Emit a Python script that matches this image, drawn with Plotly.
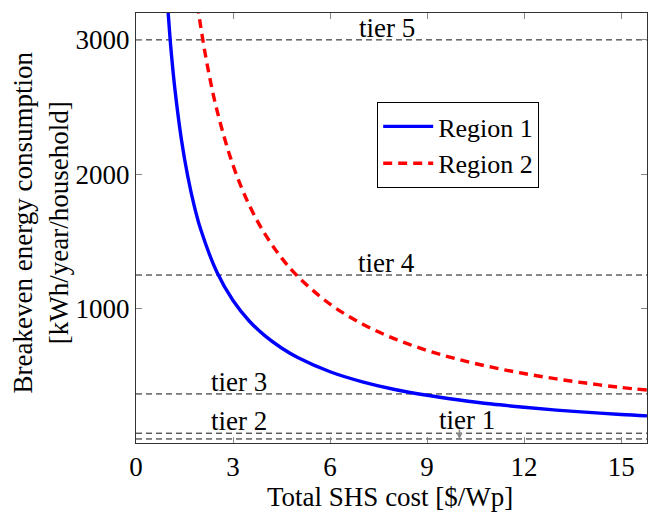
import plotly.graph_objects as go

# ---- data ----
region1_x = [0.98, 1.05, 1.1, 1.2, 1.4, 1.6, 1.8, 2.0, 2.5, 3.0, 3.5, 4.0, 4.5, 5.0,
             6.0, 7.0, 8.0, 9.0, 10.0, 11.0, 12.0, 13.0, 14.0, 15.0, 15.8]
region1_y = [3250, 3020, 2880, 2640, 2265, 1985, 1765, 1590, 1272, 1060, 908, 795, 707, 636,
             530, 455, 398, 355, 320, 290, 266, 245, 228, 212, 202]
region2_x = [1.9, 2.0, 2.2, 2.5, 3.0, 3.5, 4.0, 4.5, 5.0, 6.0, 7.0, 8.0, 9.0, 10.0,
             11.0, 12.0, 13.0, 14.0, 15.0, 15.8]
region2_y = [3265, 3100, 2818, 2480, 2067, 1771, 1550, 1378, 1240, 1033, 886, 775, 689, 620,
             564, 517, 477, 443, 413, 394]

tier_names = ["tier 1", "tier 2", "tier 3", "tier 4", "tier 5"]
tier_values = [30, 73, 365, 1250, 3000]
tier_label_x = [10.23, 3.2, 3.2, 7.75, 7.75]

x_ticks = [0, 3, 6, 9, 12, 15]
y_ticks = [1000, 2000, 3000]
x_range = [0, 15.8]
y_range = [0, 3200]

FONT = "Liberation Serif"
FS = 27

fig = go.Figure()

# tier lines
for v in tier_values:
    fig.add_trace(go.Scatter(x=x_range, y=[v, v], mode="lines", showlegend=False,
                             line=dict(color="#111111", width=1, dash="6px,4px"),
                             hoverinfo="skip"))

fig.add_trace(go.Scatter(x=region1_x, y=region1_y, mode="lines", name="Region 1",
                         line=dict(color="#0000ff", width=3.4, shape="spline")))
fig.add_trace(go.Scatter(x=region2_x, y=region2_y, mode="lines", name="Region 2",
                         line=dict(color="#ff0000", width=3.4, dash="9px,6px", shape="spline")))

annotations = []
for name, v, lx in zip(tier_names, tier_values, tier_label_x):
    if name == "tier 1":
        annotations.append(dict(x=lx, y=tier_values[1], xref="x", yref="y", text=name,
                                showarrow=False, yanchor="bottom", yshift=-4,
                                font=dict(family=FONT, size=FS, color="black")))
    else:
        annotations.append(dict(x=lx, y=v, xref="x", yref="y", text=name,
                                showarrow=False, yanchor="bottom", yshift=-5,
                                font=dict(family=FONT, size=FS, color="black")))
# arrow for tier 1
annotations.append(dict(x=10, y=tier_values[0], xref="x", yref="y", text="",
                        showarrow=True, arrowhead=2, arrowsize=0.8, arrowwidth=1.5,
                        arrowcolor="#888888", ax=0, ay=-11))
# axis titles
annotations.append(dict(x=0.497, y=-0.126, xref="paper", yref="paper",
                        text="Total SHS cost [$/Wp]", showarrow=False,
                        xanchor="center", yanchor="middle",
                        font=dict(family=FONT, size=FS, color="black")))
annotations.append(dict(x=-0.185, y=0.514, xref="paper", yref="paper",
                        text="Breakeven energy consumption<br>[kWh/year/household]",
                        showarrow=False, textangle=-90, xanchor="center", yanchor="middle",
                        font=dict(family=FONT, size=FS, color="black")))

fig.update_layout(
    width=648, height=519,
    margin=dict(l=136, r=1, t=13, b=76),
    paper_bgcolor="white", plot_bgcolor="white",
    font=dict(family=FONT, size=FS, color="black"),
    legend=dict(x=0.472, y=0.793, xanchor="left", yanchor="top",
                bgcolor="white", bordercolor="black", borderwidth=1,
                font=dict(family=FONT, size=26, color="black"),
                itemwidth=50, tracegroupgap=0),
    annotations=annotations,
)
fig.update_xaxes(range=x_range, tickvals=x_ticks, ticks="inside", ticklen=6,
                 tickcolor="#888888", showline=True, linecolor="#333333", linewidth=1,
                 mirror="ticks", showgrid=False, zeroline=False,
                 tickfont=dict(family=FONT, size=FS, color="black"))
fig.update_yaxes(range=y_range, tickvals=y_ticks, ticks="inside", ticklen=6,
                 tickcolor="#888888", showline=True, linecolor="#333333", linewidth=1,
                 mirror="ticks", showgrid=False, zeroline=False,
                 tickfont=dict(family=FONT, size=FS, color="black"))

fig.write_html("out.html")
